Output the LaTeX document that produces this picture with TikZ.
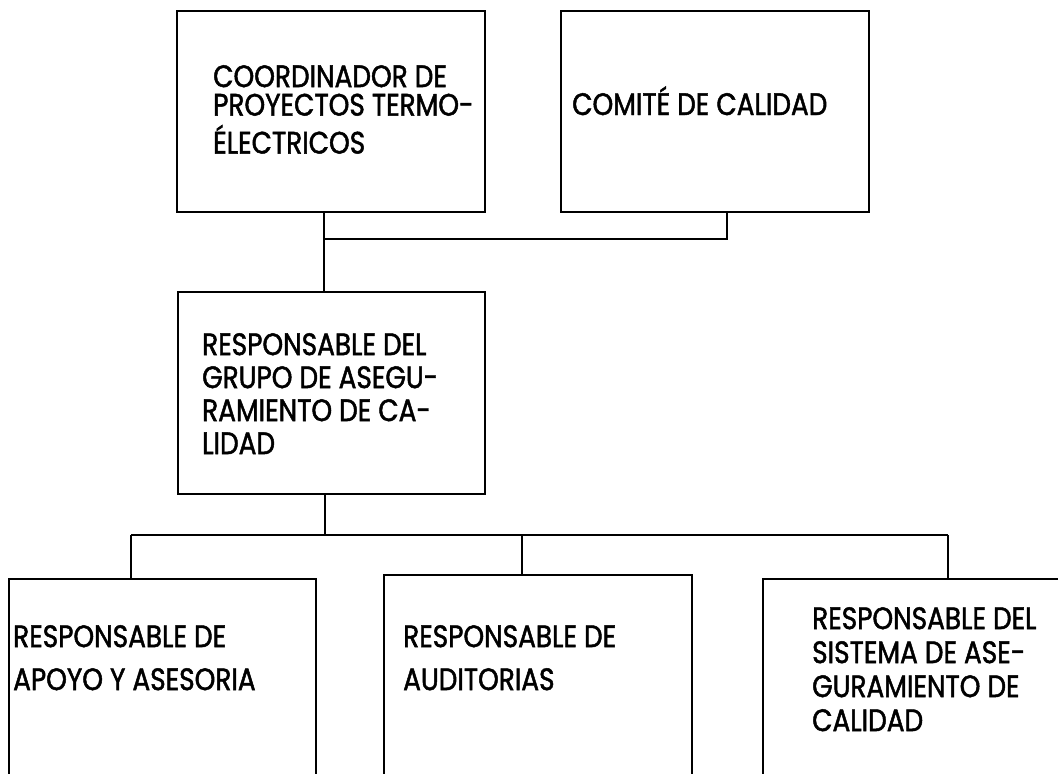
\documentclass[tikz,border=0pt]{standalone}
\usepackage{fontspec}
\setmainfont{Poppins}[FakeBold=1.5, FakeStretch=0.85]
\usepackage{tikz}

\tikzset{
	caja/.style={draw=black, line width=1.5pt, anchor=north west, inner sep=0pt, minimum width=308pt, minimum height=201pt},
	texto/.style={anchor=north west, align=left, inner sep=0pt, font=\fontsize{31}{#1}\selectfont},
	texto/.default=30,
	linea/.style={-, line width=1.5pt}
}

\begin{document}
\begin{tikzpicture}[x=1pt, y=-1pt]
	\useasboundingbox (0,0) rectangle (1058,774);
	\clip (0,0) rectangle (1058,774);

	\node[caja] (coord) at (176,10) {};
	\node[caja] (comite) at (560,10) {};
	\node[caja, minimum width=307pt, minimum height=202pt] (grupo) at (177,291) {};
	\node[caja, minimum width=307pt, minimum height=260pt] (apoyo) at (8,578) {};
	\node[caja, minimum height=260pt] (audit) at (383,574) {};
	\node[caja, minimum height=260pt] (sistema) at (762,578) {};

	\node[texto=28.5] (coordT) at (213,65) {COORDINADOR DE\\PROYECTOS TERMO-\\[8pt]ÉLECTRICOS};
	\node[texto, anchor=base west] (comiteT) at (572,115) {COMITÉ DE CALIDAD};
	\node[texto=33] (grupoT) at (202,333) {RESPONSABLE DEL\\GRUPO DE ASEGU-\\RAMIENTO DE CA-\\LIDAD};
	\node[texto=43] (apoyoT) at (13,625) {RESPONSABLE DE\\APOYO Y ASESORIA};
	\node[texto=43] (auditT) at (403,625) {RESPONSABLE DE\\AUDITORIAS};
	\node[texto=34] (sistemaT) at (812,607) {RESPONSABLE DEL\\SISTEMA DE ASE-\\GURAMIENTO DE\\CALIDAD};

	\coordinate (j1) at (324,239);
	\coordinate (j2) at (727,239);
	\coordinate (j3) at (325,535);
	\coordinate (b1) at (131,535);
	\coordinate (b2) at (522,535);
	\coordinate (b3) at (948,535);

	\draw[linea] (coord.south -| j1) -- (grupo.north -| j1);
	\draw[linea] (j1) -- (j2) -- (comite.south -| j2);
	\draw[linea] (grupo.south -| j3) -- (j3);
	\draw[linea] (b1) -- (b3);
	\draw[linea] (b1) -- (apoyo.north -| b1);
	\draw[linea] (b2) -- (audit.north -| b2);
	\draw[linea] (b3) -- (sistema.north -| b3);

\end{tikzpicture}
\end{document}
